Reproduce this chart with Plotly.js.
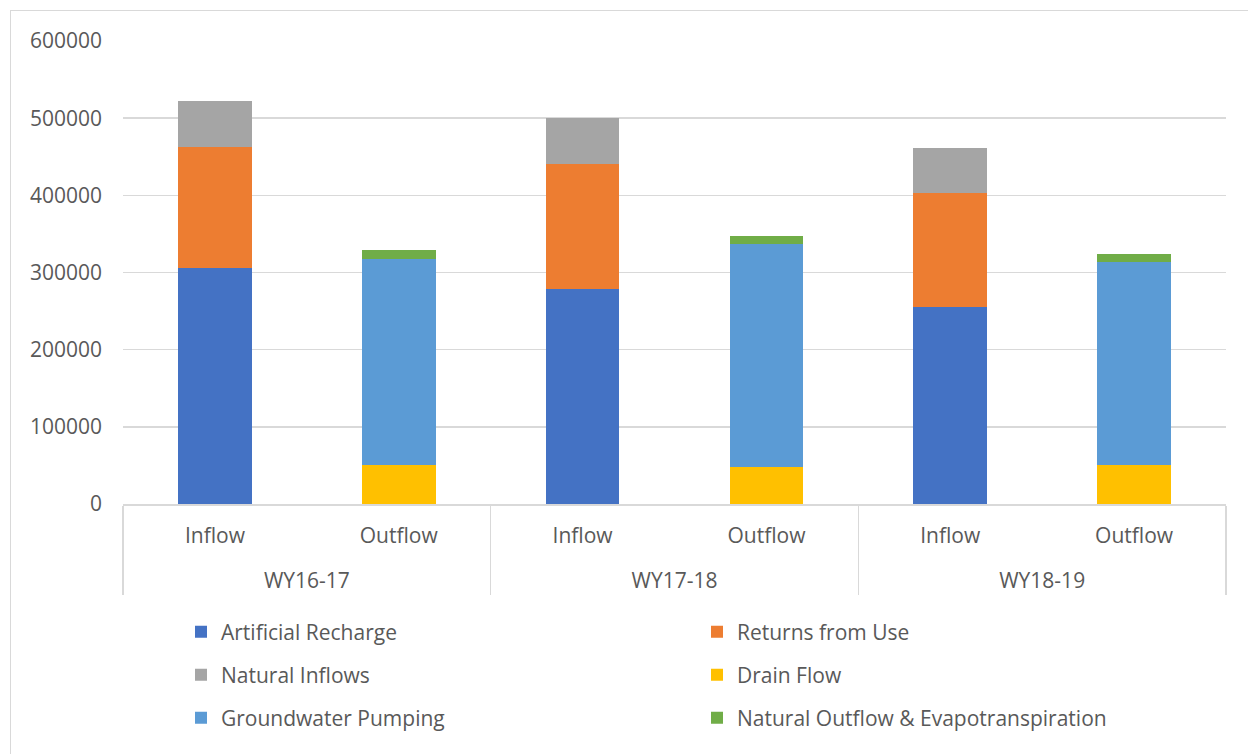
<!DOCTYPE html>
<html>
<head>
<meta charset="utf-8">
<script src="https://cdn.plot.ly/plotly-3.0.1.min.js"></script>
<style>
  html, body { margin: 0; padding: 0; background: #fff; overflow: hidden; }
  #frame { position: absolute; left: 10px; top: 10px; width: 1260px; height: 780px; border: 1.5px solid #d9d9d9; box-sizing: border-box; }
  #chart { position: absolute; left: 0; top: 0; width: 1248px; height: 754px; }
</style>
</head>
<body>
<div id="frame"></div>
<div id="chart"></div>
<script>
const years = ["WY16-17", "WY16-17", "WY17-18", "WY17-18", "WY18-19", "WY18-19"];
const flows = ["Inflow", "Outflow", "Inflow", "Outflow", "Inflow", "Outflow"];

const artificialRecharge = [305400, null, 278200, null, 254900, null];
const returnsFromUse     = [156800, null, 162000, null, 147700, null];
const naturalInflows     = [60000,  null, 59600,  null, 59100,  null];
const drainFlow          = [null, 50500,  null, 48000,  null, 50500];
const groundwaterPumping = [null, 266600, null, 288500, null, 262700];
const naturalOutflowET   = [null, 11600,  null, 10800,  null, 10800];

const seriesNames = ["Artificial Recharge", "Returns from Use", "Natural Inflows",
                     "Drain Flow", "Groundwater Pumping", "Natural Outflow & Evapotranspiration"];
const seriesValues = [artificialRecharge, returnsFromUse, naturalInflows,
                      drainFlow, groundwaterPumping, naturalOutflowET];
const seriesColors = ["#4472C4", "#ED7D31", "#A5A5A5", "#FFC000", "#5B9BD5", "#70AD47"];
const legendIds = ["legend", "legend", "legend2", "legend2", "legend3", "legend3"];

const textColor = "#595959";
const font = { family: "Open Sans, sans-serif", size: 21, color: textColor };

// group labels get an extra leading line so they sit lower, as in the reference
const yearLabels = years.map(y => "<br>" + y);

const traces = seriesNames.map((name, i) => ({
  type: "bar",
  name: name,
  x: [yearLabels, flows],
  y: seriesValues[i],
  marker: { color: seriesColors[i], line: { width: 0 } },
  legend: legendIds[i],
  hoverinfo: "skip"
}));

const plotH = 463;
function py(pix) { return (504 - pix) / plotH; }
const legX = (181 - 123) / 1103;
function mkLegend(yPix) {
  return {
    orientation: "h", x: legX, xanchor: "left", y: py(yPix), yanchor: "middle",
    entrywidth: 471, entrywidthmode: "pixels",
    font: font, bgcolor: "rgba(0,0,0,0)", borderwidth: 0, traceorder: "normal"
  };
}

const layout = {
  width: 1248, height: 754,
  margin: { l: 123, r: 22, t: 41, b: 250 },
  paper_bgcolor: "rgba(0,0,0,0)",
  plot_bgcolor: "rgba(0,0,0,0)",
  font: font,
  barmode: "stack",
  bargap: 0.6,
  showlegend: true,
  xaxis: {
    type: "multicategory",
    showline: true, linecolor: "#d9d9d9", linewidth: 1.5,
    showgrid: false, ticks: "",
    showdividers: true, dividercolor: "#d9d9d9", dividerwidth: 1.5,
    ticklabelstandoff: 12,
    tickfont: font
  },
  yaxis: {
    range: [0, 600000],
    tickvals: [0, 100000, 200000, 300000, 400000, 500000, 600000],
    ticktext: ["0", "100000", "200000", "300000", "400000", "500000", "600000"],
    showgrid: true, gridcolor: "#d9d9d9", gridwidth: 1.5,
    zeroline: false, showline: false, ticks: "",
    ticklabelstandoff: 20,
    tickfont: font
  },
  legend: mkLegend(632),
  legend2: mkLegend(675),
  legend3: mkLegend(718)
};

Plotly.newPlot("chart", traces, layout, { staticPlot: true, displayModeBar: false });
</script>
</body>
</html>
